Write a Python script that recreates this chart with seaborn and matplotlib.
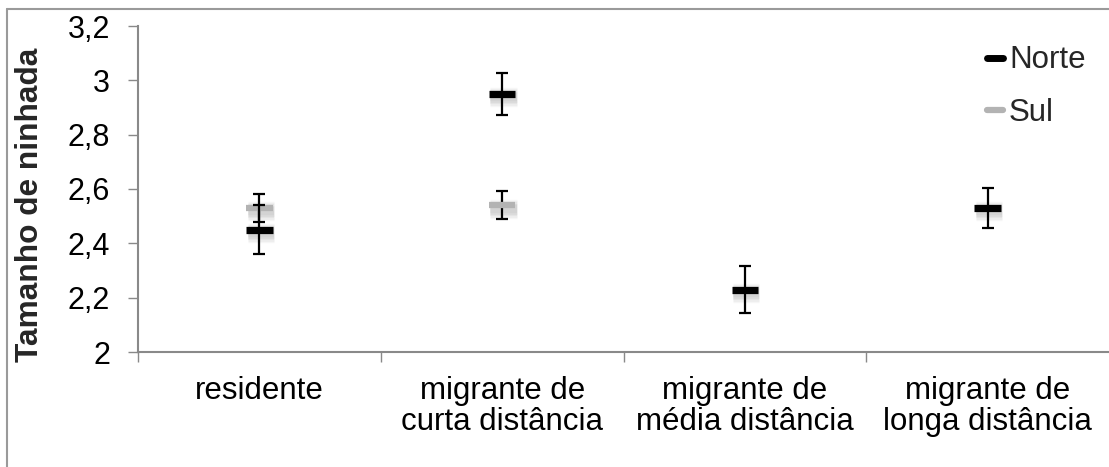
import matplotlib
matplotlib.use("Agg")
import matplotlib.pyplot as plt
import matplotlib.patheffects as pe
from matplotlib.lines import Line2D
import numpy as np
import pandas as pd
import seaborn as sns

# Data: mean clutch size by migratory category, with error (half-width)
categories = ["residente", "migrante de\ncurta distância",
              "migrante de\nmédia distância", "migrante de\nlonga distância"]
norte_mean = [2.45, 2.95, 2.23, 2.53]
norte_err = [0.09, 0.077, 0.087, 0.074]
sul_mean = [2.53, 2.54, np.nan, np.nan]
sul_err = [0.05, 0.052, np.nan, np.nan]
yticks = [2.0, 2.2, 2.4, 2.6, 2.8, 3.0, 3.2]
ytick_labels = ["2", "2,2", "2,4", "2,6", "2,8", "3", "3,2"]

sns.set_theme(style="white")
plt.rcParams["font.family"] = ["Liberation Sans", "DejaVu Sans"]

W, H = 1109, 467
fig = plt.figure(figsize=(W / 100, H / 100), dpi=100)
ax = fig.add_axes([138 / W, (H - 352) / H, (W - 138) / W, (352 - 26) / H])

df = pd.DataFrame({
    "categoria": categories * 2,
    "pos": list(range(4)) * 2,
    "media": norte_mean + sul_mean,
    "erro": norte_err + sul_err,
    "regiao": ["Norte"] * 4 + ["Sul"] * 4,
})
colors = {"Norte": "#000000", "Sul": "#b3b3b3"}

# soft drop shadow under the markers
shadow = [pe.SimpleLineShadow(offset=(1.0, -2.5), shadow_color="#000000", alpha=0.035, linewidth=lw)
          for lw in (14, 12, 10, 8, 6)] + [pe.Normal()]

sul = df[df["regiao"] == "Sul"].dropna()
nor = df[df["regiao"] == "Norte"]

# Sul markers and error bars
sns.scatterplot(data=sul, x="pos", y="media", color=colors["Sul"], marker="_",
                s=19 ** 2, linewidth=4.5, ax=ax, zorder=3, legend=False)
ax.collections[-1].set_path_effects(shadow)
ax.errorbar(sul["pos"], sul["media"], yerr=sul["erro"], fmt="none", ecolor="black",
            elinewidth=1.6, capsize=4.3, capthick=1.6, zorder=2)
# Norte error bars and markers
ax.errorbar(nor["pos"], nor["media"], yerr=nor["erro"], fmt="none", ecolor="black",
            elinewidth=1.6, capsize=4.3, capthick=1.6, zorder=4)
sns.scatterplot(data=nor, x="pos", y="media", color=colors["Norte"], marker="_",
                s=19 ** 2, linewidth=5.2, ax=ax, zorder=5, legend=False)
ax.collections[-1].set_path_effects(shadow)

ax.set_xlim(-0.5, 3.5)
ax.set_ylim(2.0, 3.2)
ax.set_yticks(yticks)
ax.set_yticklabels(ytick_labels)
ax.set_xticks(range(4))
ax.set_xticklabels(categories, linespacing=1.05)
ax.set_xticks([-0.5, 0.5, 1.5, 2.5], minor=True)
ax.set_xlabel("")
ax.set_ylabel("")

gray = "#898989"
for side in ["top", "right"]:
    ax.spines[side].set_visible(False)
for side in ["left", "bottom"]:
    ax.spines[side].set_color(gray)
    ax.spines[side].set_linewidth(1.5)
ax.tick_params(axis="y", which="major", direction="out", length=7.2, width=1.0,
               color=gray, pad=13, labelsize=22, labelcolor="black", left=True)
ax.tick_params(axis="x", which="major", length=0, pad=17, labelsize=22.5, labelcolor="black")
ax.tick_params(axis="x", which="minor", direction="out", length=7.2, width=1.0,
               color=gray, bottom=True)

fig.text(30 / W, 1 - 204.5 / H, "Tamanho de ninhada", rotation=90, ha="center",
         va="center", fontsize=22.8, fontweight="bold")

handles = [Line2D([], [], color=colors["Norte"], lw=5),
           Line2D([], [], color=colors["Sul"], lw=4.5)]
ax.legend(handles, ["Norte", "Sul"], loc="upper right", bbox_to_anchor=(1.0, 1 - 22 / H),
          bbox_transform=fig.transFigure, frameon=False, fontsize=22.5,
          handlelength=0.5, handletextpad=0.2, labelspacing=0.72, borderaxespad=0.0,
          borderpad=0.75)

# outer chart frame
fig.add_artist(Line2D([7 / W, 1.0], [1 - 9 / H, 1 - 9 / H], transform=fig.transFigure,
                      color="#9a9a9a", lw=1.5))
fig.add_artist(Line2D([7 / W, 7 / W], [0, 1 - 9 / H], transform=fig.transFigure,
                      color="#9a9a9a", lw=1.5))

fig.savefig("out.png", dpi=100, facecolor="white")
